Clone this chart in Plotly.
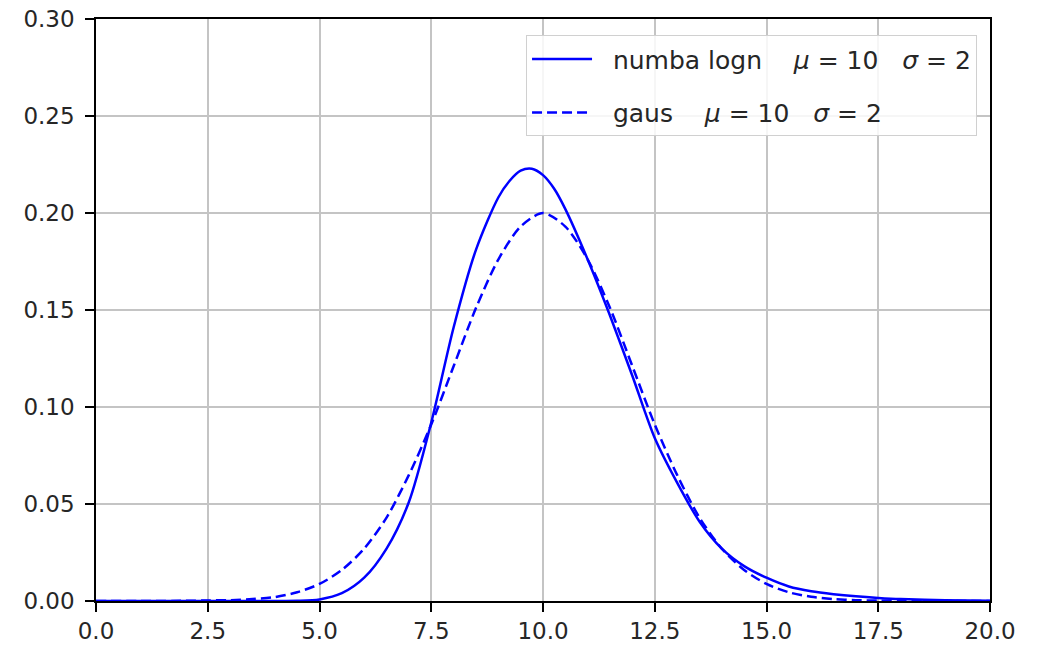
import plotly.graph_objects as go

# values
x_logn = [0, 1, 2, 3, 4, 4.5, 5, 5.5, 6, 6.5, 7, 7.5, 8, 8.5, 9, 9.25, 9.5, 9.75, 10, 10.25,
          10.5, 11, 11.5, 12, 12.5, 13, 13.5, 14, 14.5, 15, 15.5, 16, 16.5, 17, 17.5, 18, 19, 20]
y_logn = [0, 0, 0, 0, 0, 0.0001, 0.0008, 0.004, 0.012, 0.027, 0.051, 0.092, 0.141, 0.181,
          0.208, 0.2165, 0.2218, 0.2228, 0.2195, 0.2125, 0.202, 0.176, 0.147, 0.116, 0.084,
          0.061, 0.041, 0.027, 0.018, 0.012, 0.0075, 0.005, 0.0035, 0.0024, 0.0016, 0.001,
          0.0004, 0.0001]

x_gaus = [0, 1, 2, 2.5, 3, 3.5, 4, 4.5, 5, 5.5, 6, 6.5, 7, 7.5, 8, 8.5, 9, 9.5, 10, 10.5,
          11, 11.5, 12, 12.5, 13, 13.5, 14, 14.5, 15, 15.5, 16, 16.5, 17, 17.5, 18, 19, 20]
y_gaus = [0, 0, 0.0001, 0.0003, 0.0004, 0.001, 0.002, 0.0045, 0.0088, 0.016, 0.027, 0.043,
          0.065, 0.091, 0.121, 0.151, 0.176, 0.193, 0.200, 0.193, 0.176, 0.151, 0.121, 0.091,
          0.065, 0.043, 0.027, 0.016, 0.0088, 0.0045, 0.0022, 0.001, 0.0004, 0.0002, 0.0001, 0, 0]

NB = "\u00a0"
name_logn = NB * 2 + "numba logn" + NB * 4 + "<i>μ</i> = 10" + NB * 3 + "<i>σ</i> = 2"
name_gaus = NB * 2 + "gaus" + NB * 4 + "<i>μ</i> = 10" + NB * 3 + "<i>σ</i> = 2"

x_ticks = [0, 2.5, 5, 7.5, 10, 12.5, 15, 17.5, 20]
y_ticks = [0, 0.05, 0.10, 0.15, 0.20, 0.25, 0.30]

fig = go.Figure()
fig.add_trace(go.Scatter(x=x_logn, y=y_logn, mode="lines", name=name_logn, legendgroup="a",
                         line=dict(color="#0000ff", width=2.5, shape="spline", smoothing=0.8)))
fig.add_trace(go.Scatter(x=x_gaus, y=y_gaus, mode="lines", name=name_gaus, legendgroup="b",
                         line=dict(color="#0000ff", width=2.5, dash="10px,5px",
                                   shape="spline", smoothing=0.8)))

axis_common = dict(showline=True, mirror=True, linecolor="#000000", linewidth=1.6,
                   showgrid=True, gridcolor="#c4c4c4", gridwidth=1.5, zeroline=False,
                   ticks="outside", ticklen=9, tickwidth=1.5, tickcolor="#000000",
                   automargin=False,
                   tickfont=dict(family="DejaVu Sans", size=23, color="#262626"))

fig.update_layout(
    width=1043, height=646,
    margin=dict(l=96, r=53, t=19, b=45),
    paper_bgcolor="white", plot_bgcolor="white",
    font=dict(family="DejaVu Sans", size=23, color="#262626"),
    xaxis=dict(range=[0, 20], tickvals=x_ticks, tickformat=".1f", **axis_common),
    yaxis=dict(range=[0, 0.30], tickvals=y_ticks, tickformat=".2f",
               ticklabelstandoff=6, **axis_common),
    legend=dict(x=0.9855, xanchor="right", y=0.972, yanchor="top",
                bgcolor="rgba(255,255,255,0.85)", bordercolor="#d0d0d0", borderwidth=1,
                font=dict(family="DejaVu Sans", size=25, color="#262626"),
                traceorder="grouped", tracegroupgap=18, itemwidth=60),
    showlegend=True,
)

fig.write_html("out.html")
